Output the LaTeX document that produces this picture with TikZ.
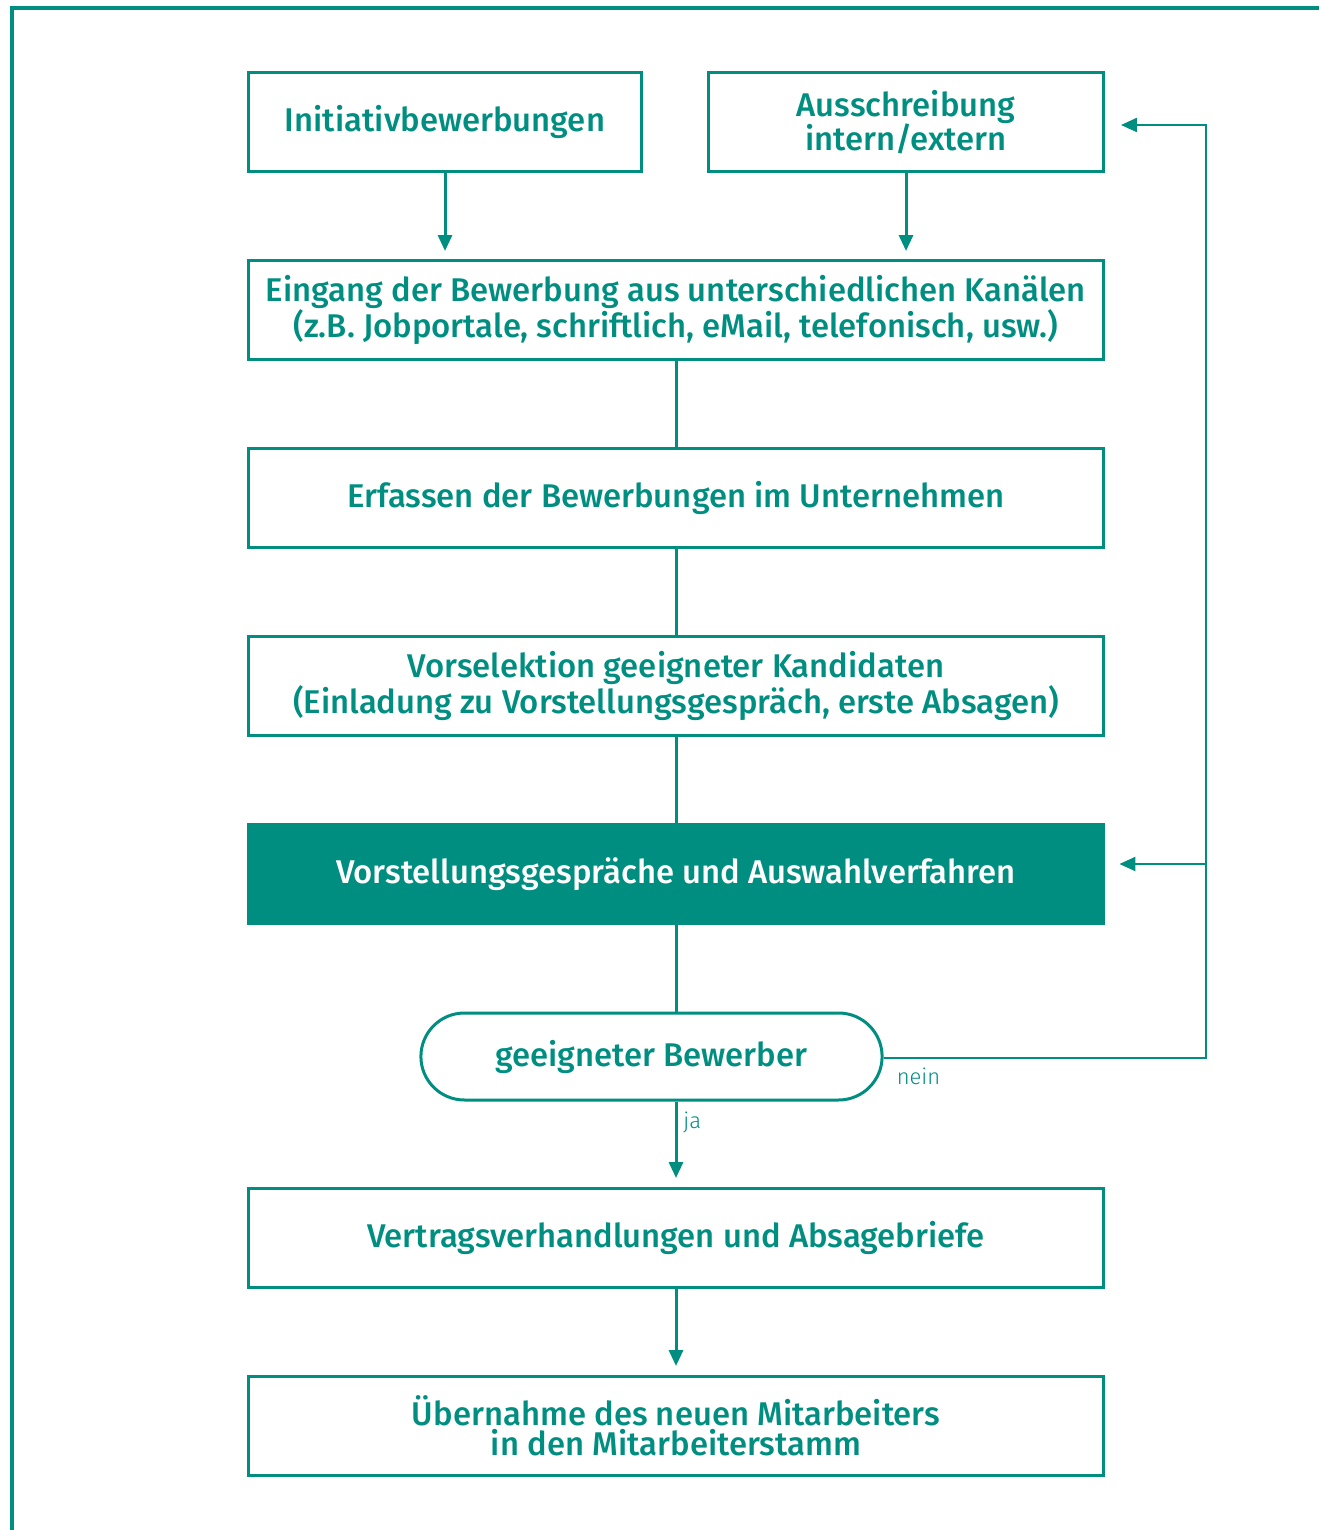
\documentclass[tikz,border=0pt]{standalone}
\usepackage{fontspec}
\setmainfont{Fira Sans}[UprightFont=* Medium]
\newfontfamily\labelfont{Fira Sans Light}
\usepackage{tikz}
\usetikzlibrary{positioning, arrows.meta, shapes.misc}
\definecolor{teal}{RGB}{0,142,128}

\begin{document}
\begin{tikzpicture}
        [
            x=0.02cm, y=-0.02cm,
            every node/.style={font=\fontsize{18.7}{18.2}\selectfont, text=teal, align=center},
            box/.style={rectangle, draw=teal, line width=0.06cm,
                        minimum width=#1, minimum height=1.98cm, inner sep=0pt},
            box/.default=17.12cm,
            dark/.style={box, fill=teal, text=white},
            pill/.style={rounded rectangle, draw=teal, line width=0.06cm,
                         minimum width=9.46cm, minimum height=1.74cm},
            flow/.style={draw=teal, line width=0.06cm},
            back/.style={draw=teal, line width=0.045cm},
            tip/.style={-{Triangle[length=0.32cm,width=0.28cm]}},
            small/.style={font=\labelfont\fontsize{12.5}{14}\selectfont, text=teal}
        ]
        \useasboundingbox (0,0) rectangle (1319,1530);
        \draw [teal, line width=0.08cm] (12,1530) -- (12,8) -- (1319,8);

        \node (ini) [box=7.88cm] at (445,122) {Initiativbewerbungen};
        \node (aus) [box=7.9cm] at (906,122) {Ausschreibung\\[-1pt]intern/extern};
        \node (ein) [box] at (676,310) {Eingang der Bewerbung aus unterschiedlichen Kanälen\\[-1pt](z.B. Jobportale, schriftlich, eMail, telefonisch, usw.)};
        \node (erf) [box] at (676,498) {Erfassen der Bewerbungen im Unternehmen};
        \node (vor) [box] at (676,686) {Vorselektion geeigneter Kandidaten\\[-1pt](Einladung zu Vorstellungsgespräch, erste Absagen)};
        \node (ges) [dark=17.16cm] at (676,874) {Vorstellungsgespräche und Auswahlverfahren};
        \node (dec) [pill] at (651.5,1056.5) {geeigneter Bewerber};
        \node (ver) [box] at (676,1238) {Vertragsverhandlungen und Absagebriefe};
        \node (ueb) [box] at (676,1426) {Übernahme des neuen Mitarbeiters\\[-1pt]in den Mitarbeiterstamm};
        \coordinate (ret) at (1206,1058);
        \coordinate (ain) at ([xshift=0.32cm, yshift=-0.06cm]aus.east);
        \coordinate (gin) at ([xshift=0.28cm, yshift=0.2cm]ges.east);

        \foreach \a in {ini,aus}
            \draw [flow, tip, shorten >=0.16cm] (\a) -- (\a.south |- ein.north);
        \foreach \a/\b in {ein/erf, erf/vor, vor/ges}
            \draw [flow] (\a) -- (\b);
        \draw [flow] (ges) -- (ges.south |- dec.north);
        \draw [flow, tip, shorten >=0.18cm] (ges.south |- dec.south) -- node[small, right, pos=0.25] {ja} (ges.south |- ver.north);
        \draw [flow, tip, shorten >=0.18cm] (ver) -- (ueb);

        \draw [back, tip] (dec.east |- ret) -- (ret) |- (ain);
        \draw [back, tip] (ret |- gin) -- (gin);
        \node [small, below right=2pt and 4pt of dec.east |- ret] {nein};
    \end{tikzpicture}
\end{document}
